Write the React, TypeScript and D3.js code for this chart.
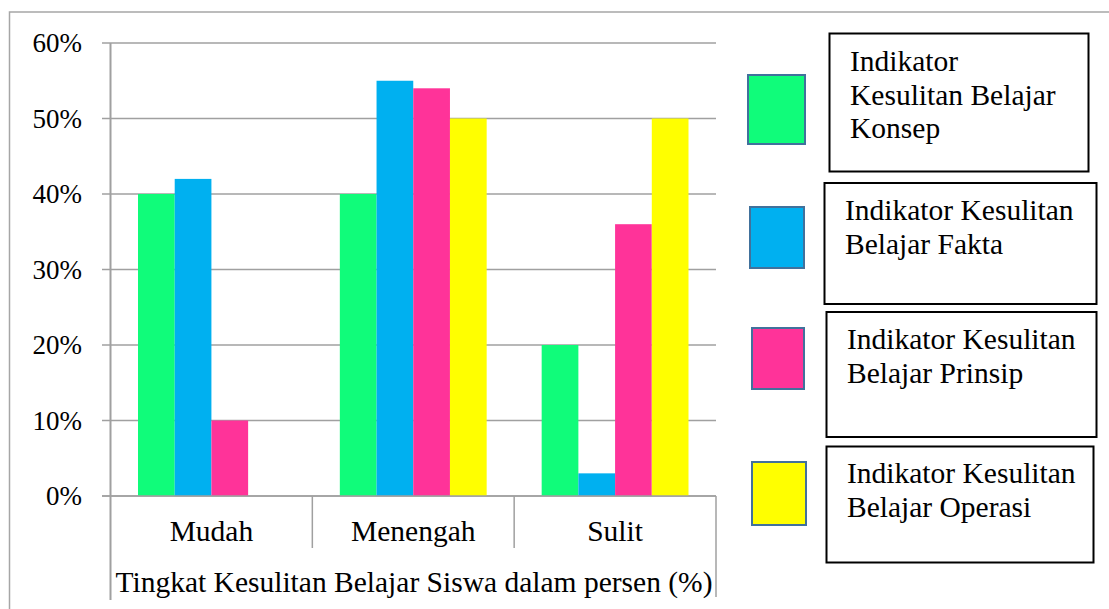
import React from "react";
import * as d3 from "d3";

// chart values
const categories = ["Mudah", "Menengah", "Sulit"];
const seriesNames = [
  "Indikator Kesulitan Belajar Konsep",
  "Indikator Kesulitan Belajar Fakta",
  "Indikator Kesulitan Belajar Prinsip",
  "Indikator Kesulitan Belajar Operasi",
];
const konsep = [40, 40, 20];
const fakta = [42, 55, 3];
const prinsip = [10, 54, 36];
const operasi = [0, 50, 50];
const yTicks = [0, 10, 20, 30, 40, 50, 60];
const colors = ["#10FC7A", "#00B0F0", "#FF3399", "#FFFF00"];

// legend text split the way the boxes wrap it
const legendLines = [
  ["Indikator", "Kesulitan Belajar", "Konsep"],
  ["Indikator Kesulitan", "Belajar Fakta"],
  ["Indikator Kesulitan", "Belajar Prinsip"],
  ["Indikator Kesulitan", "Belajar Operasi"],
];
const xTitle = "Tingkat Kesulitan Belajar Siswa dalam persen (%)";

const W = 1109, H = 609;
const font = "Liberation Serif, Times New Roman, serif";

export default function App() {
  const values = [konsep, fakta, prinsip, operasi];

  const x0 = d3.scaleBand().domain(categories).range([110.5, 716]);
  const x1 = d3
    .scaleBand()
    .domain(seriesNames)
    .range([27.5, x0.bandwidth() - 27.5]);
  const y = d3.scaleLinear().domain([0, 60]).range([496, 43]);

  // legend layout (swatch boxes + framed text boxes)
  const swatches = [
    { x: 748, y: 75, w: 57, h: 69 },
    { x: 750, y: 207, w: 54, h: 61 },
    { x: 752, y: 328, w: 52, h: 61 },
    { x: 752, y: 462, w: 54, h: 63 },
  ];
  const boxes = [
    { x: 829.5, y: 33.5, w: 259, h: 138, tx: 850, ty: 71 },
    { x: 824.5, y: 183, w: 272, h: 121, tx: 845, ty: 220 },
    { x: 826.5, y: 312, w: 270, h: 125, tx: 847, ty: 349 },
    { x: 826.5, y: 446.5, w: 267, h: 116, tx: 847, ty: 483 },
  ];

  const txt = { fontFamily: font, fill: "#000" };

  return (
    <svg
      width={W}
      height={H}
      style={{ position: "absolute", left: 0, top: 0, background: "#fff" }}
    >
      {/* outer chart frame */}
      <rect x={9.5} y={12} width={1110} height={620} fill="none" stroke="#A6A6A6" strokeWidth={1.5} />

      {/* gridlines + y ticks */}
      {yTicks.map((t) => (
        <g key={t}>
          <line x1={102} x2={716} y1={y(t)} y2={y(t)} stroke="#A0A0A0" strokeWidth={1.5} />
          <text x={82} y={y(t)} dy="0.35em" textAnchor="end" style={{ ...txt, fontSize: 27 }}>
            {t}%
          </text>
        </g>
      ))}

      {/* bars */}
      {categories.map((c, ci) => (
        <g key={c} transform={`translate(${x0(c)},0)`}>
          {seriesNames.map((s, si) => {
            const v = values[si][ci];
            if (!v) return null;
            return (
              <rect
                key={s}
                x={x1(s)}
                y={y(v)}
                width={x1.bandwidth()}
                height={y(0) - y(v)}
                fill={colors[si]}
              />
            );
          })}
        </g>
      ))}

      {/* value axis line */}
      <line x1={110.5} x2={110.5} y1={y(60)} y2={600} stroke="#A0A0A0" strokeWidth={2} />

      {/* category axis drawn as a table */}
      <line x1={102} x2={716} y1={y(0)} y2={y(0)} stroke="#A0A0A0" strokeWidth={1.5} />
      {categories.slice(1).map((c) => (
        <line key={c} x1={x0(c)} x2={x0(c)} y1={y(0)} y2={548} stroke="#A0A0A0" strokeWidth={1.5} />
      ))}
      <line x1={716} x2={716} y1={y(0)} y2={597} stroke="#A0A0A0" strokeWidth={1.5} />
      {categories.map((c) => (
        <text
          key={c}
          x={(x0(c) as number) + x0.bandwidth() / 2}
          y={541}
          textAnchor="middle"
          style={{ ...txt, fontSize: 29.5 }}
        >
          {c}
        </text>
      ))}
      <text x={414} y={592} textAnchor="middle" style={{ ...txt, fontSize: 29.5 }}>
        {xTitle}
      </text>

      {/* legend */}
      {swatches.map((s, i) => (
        <rect key={i} x={s.x} y={s.y} width={s.w} height={s.h} fill={colors[i]} stroke="#41719C" strokeWidth={2} />
      ))}
      {boxes.map((b, i) => (
        <g key={i}>
          <rect x={b.x} y={b.y} width={b.w} height={b.h} fill="#fff" stroke="#000" strokeWidth={2} />
          {legendLines[i].map((ln, li) => (
            <text key={li} x={b.tx} y={b.ty + li * 33.5} style={{ ...txt, fontSize: 29.5 }}>
              {ln}
            </text>
          ))}
        </g>
      ))}
    </svg>
  );
}
